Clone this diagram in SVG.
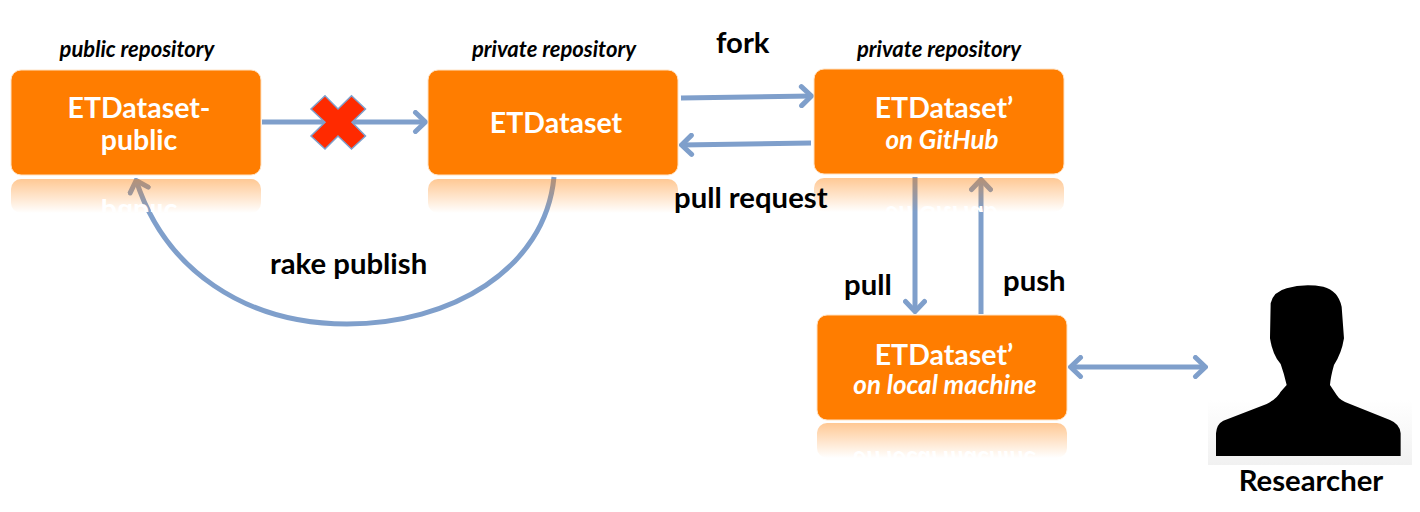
<svg xmlns="http://www.w3.org/2000/svg" width="1420" height="512" viewBox="0 0 1420 512">
<style>
text{font-family:"Lato","Open Sans","Liberation Sans",sans-serif;font-weight:700;fill:#000}
.lab{font-size:29.300px}
.cap{font-size:22px;font-style:italic;text-anchor:middle}
.t{font-size:28.500px;fill:#fff;text-anchor:middle}
.s{font-size:26px;fill:#fff;font-style:italic;text-anchor:middle}
.box{fill:#ff7d00;stroke:#ffe3c4;stroke-width:1}
.line{fill:none;stroke:#7f9fcb;stroke-width:5}
</style>
<defs>
<marker id="a" viewBox="-14 -12 16 24" refX="0" refY="0" markerWidth="16" markerHeight="24" markerUnits="userSpaceOnUse" orient="auto-start-reverse">
<path d="M-10.500,-9.500 L-0.500,0 L-10.500,9.500" fill="none" stroke="#7f9fcb" stroke-width="5" stroke-linecap="round" stroke-linejoin="miter"/>
</marker>
<linearGradient id="r" x1="0" y1="0" x2="0" y2="1">
<stop offset="0" stop-color="#ff7d00" stop-opacity=".42"/>
<stop offset="1" stop-color="#ff7d00" stop-opacity="0"/>
</linearGradient>
<linearGradient id="bg" x1="0" y1="0" x2="0" y2="1">
<stop offset="0" stop-color="#fff"/>
<stop offset="1" stop-color="#f1f1f1"/>
</linearGradient>
<clipPath id="c1"><rect x="0" y="179" width="300" height="33"/></clipPath>
<clipPath id="c3"><rect x="800" y="178" width="300" height="34"/></clipPath>
<clipPath id="c4"><rect x="800" y="423" width="300" height="35"/></clipPath>
</defs>
<g id="connectors">
<path class="line" d="M262,122 L426,122" marker-end="url(#a)"/>
<path class="line" d="M681,98 L812,96" marker-end="url(#a)"/>
<path class="line" d="M811,143 L681,145" marker-end="url(#a)"/>
<path class="line" d="M915,177 L915,312" marker-end="url(#a)"/>
<path class="line" d="M981,314 L981,179" marker-end="url(#a)"/>
<path class="line" d="M1070,367 L1206,367" marker-start="url(#a)" marker-end="url(#a)"/>
<path class="line" d="M554,177 C545,270 450,324 347,324 C245,324 165,270 136,180" marker-end="url(#a)"/>
</g>
<g id="node-public">
<text class="cap" x="137" y="57">public repository</text>
<rect class="box" x="11" y="70" width="250" height="105" rx="10"/>
<text class="t" x="139" y="118">ETDataset-</text>
<text class="t" x="139" y="150">public</text>
<rect x="11" y="179" width="250" height="34" rx="10" fill="url(#r)"/>
<g clip-path="url(#c1)"><text class="t" x="139" y="150" transform="translate(0,354) scale(1,-1)">public</text></g>
</g>
<g id="node-private">
<text class="cap" x="554" y="57">private repository</text>
<rect class="box" x="428" y="70" width="250" height="105" rx="10"/>
<text class="t" x="556" y="133">ETDataset</text>
<rect x="428" y="179" width="250" height="34" rx="10" fill="url(#r)"/>
</g>
<g id="node-github">
<text class="cap" x="939" y="57">private repository</text>
<rect class="box" x="814" y="69" width="250" height="105" rx="10"/>
<text class="t" x="944" y="118">ETDataset’</text>
<text class="s" x="942" y="149">on GitHub</text>
<rect x="814" y="178" width="250" height="34" rx="10" fill="url(#r)"/>
<g clip-path="url(#c3)"><text class="s" x="942" y="149" transform="translate(0,355) scale(1,-1)">on GitHub</text></g>
</g>
<g id="node-local">
<rect class="box" x="817" y="315" width="250" height="105" rx="10"/>
<text class="t" x="944" y="365">ETDataset’</text>
<text class="s" x="945" y="394">on local machine</text>
<rect x="817" y="423" width="250" height="35" rx="10" fill="url(#r)"/>
<g clip-path="url(#c4)"><text class="s" x="945" y="394" transform="translate(0,845) scale(1,-1)">on local machine</text></g>
</g>
<g id="researcher">
<rect x="1208" y="400" width="204" height="65" fill="url(#bg)"/>
<path transform="translate(1190,270) scale(.3333)" fill="#000" d="M78,558 L78,490 Q80,462 100,452 L230,402 Q262,385 272,365 L290,345 Q282,310 272,282 Q248,255 240,205 L242,100 Q250,65 290,55 Q340,40 400,50 Q445,62 455,110 L462,205 Q455,250 432,285 Q422,320 420,345 L440,375 Q450,392 480,402 L600,450 Q630,462 632,490 L632,558 Z"/>
<text class="lab" x="1311" y="491" text-anchor="middle">Researcher</text>
</g>
<g id="blocked">
<polygon points="338,109 351.500,95.700 365.500,109 352,122.300 365.500,136 351.500,149 338,136 325,149 311,136 325,122.300 311,109 325,95.700" fill="#ff2a00" stroke="#7f9fcb" stroke-width="1.500"/>
</g>
<g id="labels">
<text class="lab" x="716" y="53">fork</text>
<text class="lab" x="674" y="208">pull request</text>
<text class="lab" x="270" y="274">rake publish</text>
<text class="lab" x="844" y="295">pull</text>
<text class="lab" x="1003" y="291">push</text>
</g>
</svg>
